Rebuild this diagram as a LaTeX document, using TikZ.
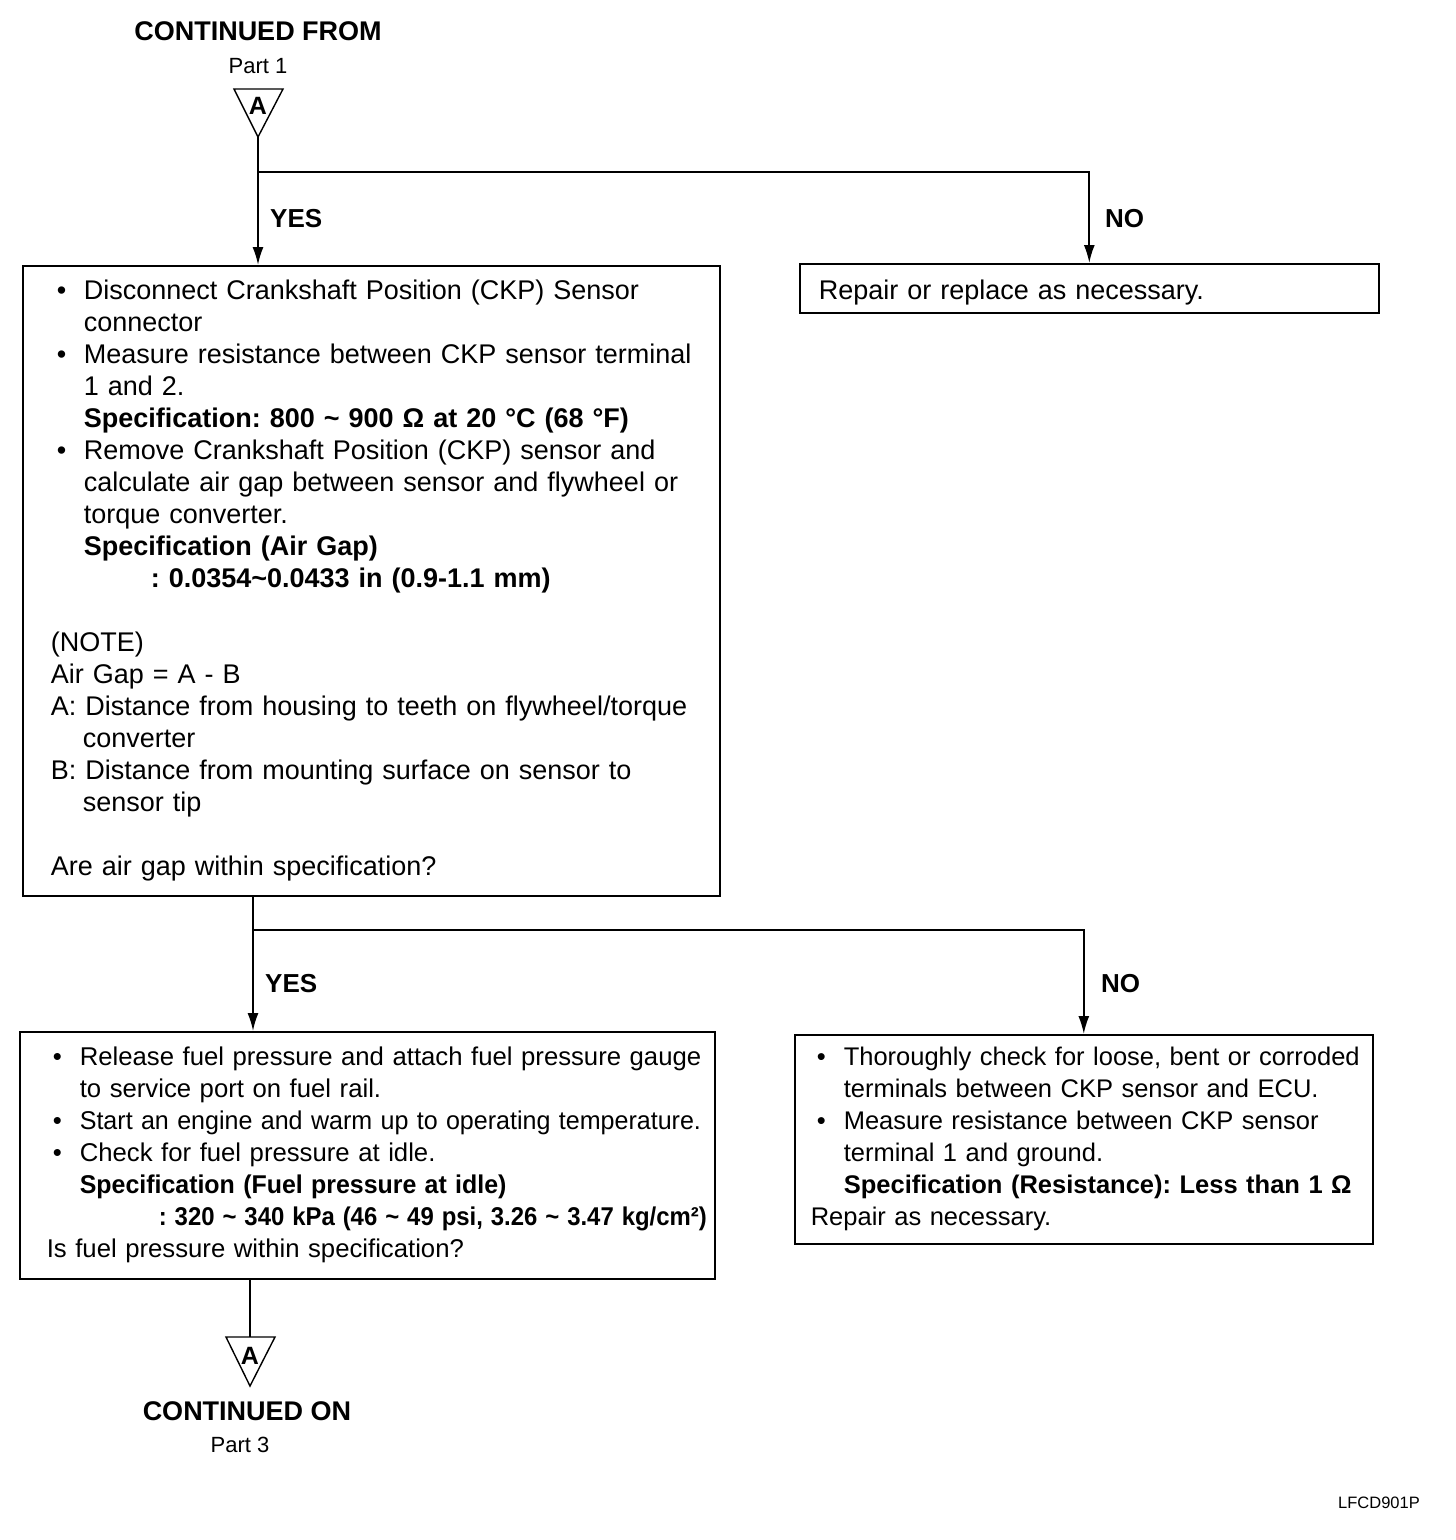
\documentclass[tikz,border=0pt]{standalone}
\usepackage{fontspec}
\setmainfont{Liberation Sans}
\usepackage{graphicx}
\usetikzlibrary{arrows.meta,positioning,calc}
\newcommand{\bul}{\hspace*{6pt}\makebox[27pt][l]{•}}
\newcommand{\ind}{\hspace*{33pt}}
\frenchspacing

\begin{document}
\begin{tikzpicture}[x=1pt,y=-1pt]
\tikzstyle{box}=[rectangle, draw=black, line width=1.6pt, anchor=north west, align=left, inner ysep=0pt]
\tikzstyle{connect}=[-{Latex[length=18pt,width=11pt]}, line width=1.8pt]
\tikzstyle{line}=[line width=1.6pt]
\tikzstyle{tri}=[line width=1.4pt, line join=miter]
\tikzstyle{lbl}=[font=\bfseries\fontsize{26}{30}\selectfont, anchor=base west, inner sep=0pt]
\tikzstyle{title}=[font=\bfseries\fontsize{27}{30}\selectfont, anchor=base, inner sep=0pt]
\tikzstyle{part}=[font=\fontsize{22}{26}\selectfont, anchor=base, inner sep=0pt]
\tikzstyle{letter}=[font=\bfseries\fontsize{25}{28}\selectfont, anchor=base, inner sep=0pt]
  \useasboundingbox (0,0) rectangle (1456,1540);

  % entry marker
  \node[title] (from) at (258,40) {CONTINUED FROM};
  \node[part] (part1) at (258,73) {Part 1};
  \coordinate (topA) at (258,137);
  \draw[tri] (234,89) -- (283,89) -- (topA) -- cycle;
  \node[letter] (markA) at (258,114) {A};

  % first check
  \node[box, text width=641pt, inner xsep=28pt, minimum height=630pt, font=\fontsize{27}{32}\selectfont] (chk1) at (22,265) {%
  \begin{tabular}{@{}l@{}}
  \bul Disconnect Crankshaft Position (CKP) Sensor\\
  \ind connector\\
  \bul Measure resistance between CKP sensor terminal\\
  \ind 1 and 2.\\
  \ind\textbf{Specification: 800 \textasciitilde{} 900 Ω at 20 °C (68 °F)}\\
  \bul Remove Crankshaft Position (CKP) sensor and\\
  \ind calculate air gap between sensor and flywheel or\\
  \ind torque converter.\\
  \ind\textbf{Specification (Air Gap)}\\
  \hspace*{100pt}\textbf{: 0.0354\textasciitilde 0.0433 in (0.9-1.1 mm)}\\
  \\
  (NOTE)\\
  Air Gap = A - B\\
  A: Distance from housing to teeth on flywheel/torque\\
  \hspace*{32pt}converter\\
  B: Distance from mounting surface on sensor to\\
  \hspace*{32pt}sensor tip\\
  \\
  Are air gap within specification?
  \end{tabular}};
  \node[box, text width=541pt, inner xsep=19pt, minimum height=49pt, font=\fontsize{27}{32}\selectfont] (rep1) at (799,263) {%
  \raisebox{-4pt}[\height][\depth]{Repair or replace as necessary.}};

  \coordinate (br1) at (258,172);
  \draw[connect] (topA) -- (topA |- chk1.north);
  \draw[connect] (br1) -| (rep1.north);
  \node[lbl] (yes1) at (270,227) {YES};
  \node[lbl] (no1) at (1105,227) {NO};

  % second check
  \node[box, text width=641pt, inner xsep=27pt, minimum height=247pt, font=\fontsize{25.7}{32}\selectfont] (chk2) at (19,1031) {%
  \begin{tabular}{@{}l@{}}
  \bul Release fuel pressure and attach fuel pressure gauge\\
  \ind to service port on fuel rail.\\
  \bul \scalebox{0.975}[1]{Start an engine and warm up to operating temperature.}\\
  \bul Check for fuel pressure at idle.\\
  \ind\scalebox{0.97}[1]{\textbf{Specification (Fuel pressure at idle)}}\\
  \hspace*{112pt}\scalebox{0.93}[1]{\textbf{: 320 \textasciitilde{} 340 kPa (46 \textasciitilde{} 49 psi, 3.26 \textasciitilde{} 3.47 kg/cm²)}}\\
  Is fuel pressure within specification?
  \end{tabular}};
  \node[box, text width=546pt, inner xsep=16pt, minimum height=209pt, font=\fontsize{25.5}{32}\selectfont] (rep2) at (794,1034) {%
  \begin{tabular}{@{}l@{}}
  \bul Thoroughly check for loose, bent or corroded\\
  \ind terminals between CKP sensor and ECU.\\
  \bul Measure resistance between CKP sensor\\
  \ind terminal 1 and ground.\\
  \ind\textbf{Specification (Resistance): Less than 1 Ω}\\
  Repair as necessary.
  \end{tabular}};

  \coordinate (br2) at (253,930);
  \draw[line] (chk1.south -| br2) -- (br2);
  \draw[connect] (br2) -- (br2 |- chk2.north);
  \draw[connect] (br2) -| (rep2.north);
  \node[lbl] (yes2) at (265,992) {YES};
  \node[lbl] (no2) at (1101,992) {NO};

  % exit marker
  \coordinate (botA) at (250,1337);
  \draw[line] (chk2.south -| botA) -- (botA);
  \draw[tri] (226,1337) -- (275,1337) -- (250,1386) -- cycle;
  \node[letter] (markB) at (250,1364) {A};
  \node[title] (on) at (247,1420) {CONTINUED ON};
  \node[part] (part3) at (240,1452) {Part 3};

  \node[font=\fontsize{16.5}{18}\selectfont, anchor=base east, inner sep=0pt] (code) at (1420,1508) {LFCD901P};
\end{tikzpicture}
\end{document}
